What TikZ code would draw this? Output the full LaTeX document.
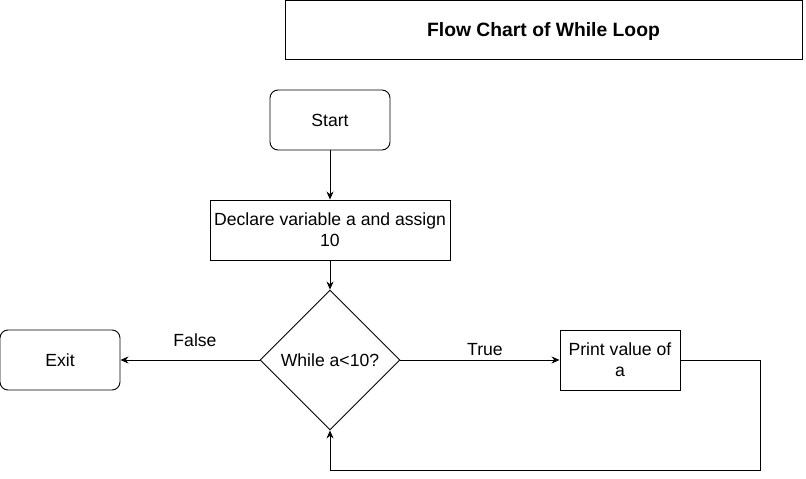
\documentclass[tikz,border=0pt]{standalone}
\usepackage{fontspec}
\setmainfont{Liberation Sans}
\usetikzlibrary{arrows.meta,shapes.geometric}
\begin{document}
\begin{tikzpicture}[x=1pt,y=-1pt,
  box/.style={draw,line width=0.9pt,inner sep=0pt,font=\fontsize{17.6}{21}\selectfont,align=center},
  rbox/.style={box,rounded corners=8pt},
  conn/.style={line width=0.9pt,-{Stealth[length=8pt,width=7pt]}},
  lbl/.style={font=\fontsize{17.6}{21}\selectfont}]
\useasboundingbox (0,0) rectangle (806,479);
\node[draw,line width=0.9pt,minimum width=517pt,minimum height=59pt,text depth=0pt,font=\bfseries\fontsize{19.3}{23}\selectfont] (title) at (543.5,30) {Flow Chart of While Loop};
\node[rbox,minimum width=120pt,minimum height=60pt] (start) at (330,120) {Start};
\node[box,minimum width=240pt,minimum height=60pt] (decl) at (330,230) {Declare variable a and assign\\10};
\node[box,diamond,aspect=1,minimum width=140pt,minimum height=140pt] (dec) at (330,360) {While a<10?};
\node[rbox,minimum width=120pt,minimum height=60pt] (exit) at (60,360) {Exit};
\node[box,minimum width=120pt,minimum height=60pt] (print) at (620,360) {Print value of\\a};
\coordinate (c1) at (760,360);
\coordinate (c2) at (760,470);
\coordinate (c3) at (330,470);
\draw[conn] (start) -- (decl);
\draw[conn] (decl) -- (dec);
\draw[conn] (dec) -- (exit);
\draw[conn] (dec) -- (print);
\draw[conn] (print.east) -- (c1) -- (c2) -- (c3) -- (dec.south);
\node[lbl] (false) at (195,340) {False};
\node[lbl] (true) at (485,350) {True};
\end{tikzpicture}
\end{document}
